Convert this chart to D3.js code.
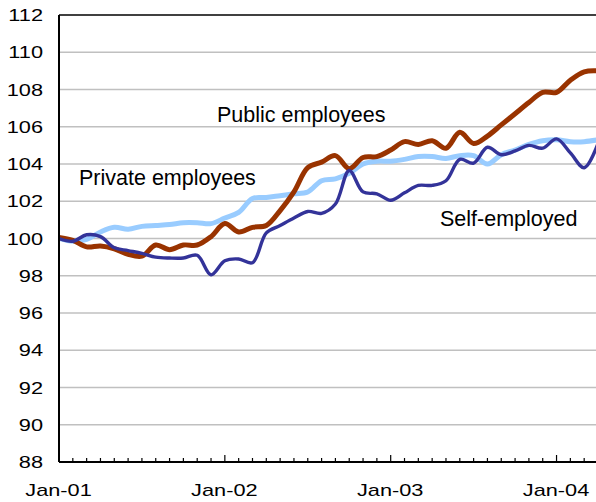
<!DOCTYPE html>
<html lang="en">

<head>
    <meta charset="UTF-8">
    <title>Employment index</title>
    <style>
        body {
            margin: 0;
            background: #fff;
        }

        svg {
            display: block;
            font-family: "Liberation Sans", Arial, sans-serif;
        }
    </style>
</head>

<body>
    <svg width="596" height="502"></svg>
    <script src="https://cdn.jsdelivr.net/npm/d3@7.8.5/dist/d3.min.js"></script>
    <script>
        // index values, monthly from Jan-01
        const yTicks = [88, 90, 92, 94, 96, 98, 100, 102, 104, 106, 108, 110, 112]
        const gridValues = [90, 92, 94, 96, 98, 100, 102, 104, 106, 108, 110]
        const xTickLabels = ['Jan-01', 'Jan-02', 'Jan-03', 'Jan-04']

        const publicEmp = [
            100.05, 99.9, 99.55, 99.6, 99.45, 99.15, 99.05, 99.65, 99.4, 99.65,
            99.65, 100.1, 100.8, 100.35, 100.6, 100.7, 101.5, 102.5, 103.8, 104.1,
            104.45, 103.75, 104.35, 104.4, 104.75, 105.2, 105.05, 105.25, 104.85, 105.7,
            105.1, 105.5, 106.1, 106.7, 107.3, 107.85, 107.85, 108.5, 108.95, 109.0
        ]
        const privateEmp = [
            100.0, 99.85, 99.95, 100.35, 100.6, 100.5, 100.65, 100.7, 100.75, 100.85,
            100.85, 100.8, 101.1, 101.4, 102.15, 102.2, 102.3, 102.4, 102.5, 103.1,
            103.2, 103.5, 104.0, 104.15, 104.15, 104.25, 104.4, 104.4, 104.3, 104.45,
            104.45, 104.0, 104.5, 104.75, 105.05, 105.25, 105.3, 105.2, 105.2, 105.3
        ]
        const selfEmp = [
            100.0, 99.85, 100.2, 100.1, 99.5, 99.35, 99.2, 99.0, 98.95, 98.95,
            99.1, 98.05, 98.8, 98.9, 98.7, 100.3, 100.7, 101.1, 101.45, 101.35,
            101.85, 103.65, 102.5, 102.4, 102.05, 102.45, 102.85, 102.85, 103.1, 104.25,
            104.05, 104.9, 104.5, 104.7, 105.0, 104.85, 105.35, 104.6, 103.8, 105.1
        ]

        const svg = d3.select('svg')
        const plotLeft = 59, plotTop = 15, plotBottom = 462
        const months = d3.range(publicEmp.length)

        const x = d3.scaleLinear().domain([0, 39]).range([plotLeft, 598])
        const y = d3.scaleLinear().domain([88, 112]).range([plotBottom, plotTop])

        svg.append('defs').append('clipPath').attr('id', 'plot')
            .append('rect')
            .attr('x', plotLeft).attr('y', plotTop - 5)
            .attr('width', 600).attr('height', plotBottom - plotTop + 5)

        // gridlines
        svg.append('g').selectAll('line')
            .data(gridValues)
            .join('line')
            .attr('x1', plotLeft).attr('x2', 596)
            .attr('y1', d => y(d)).attr('y2', d => y(d))
            .attr('stroke', '#c0c0c0')
            .attr('stroke-width', 1.5)

        // series
        const line = d3.line()
            .x((d, i) => x(i))
            .y(d => y(d))
            .curve(d3.curveCatmullRom.alpha(0.5))

        const series = [
            { values: privateEmp, color: '#99ccff', width: 5 },
            { values: publicEmp, color: '#993300', width: 5 },
            { values: selfEmp, color: '#333399', width: 3.4 }
        ]

        svg.append('g').attr('clip-path', 'url(#plot)')
            .selectAll('path')
            .data(series)
            .join('path')
            .attr('d', d => line(d.values))
            .attr('fill', 'none')
            .attr('stroke', d => d.color)
            .attr('stroke-width', d => d.width)
            .attr('stroke-linejoin', 'round')
            .attr('stroke-linecap', 'round')

        // frame
        svg.append('line').attr('x1', plotLeft).attr('x2', plotLeft).attr('y1', plotTop).attr('y2', plotBottom)
            .attr('stroke', 'black').attr('stroke-width', 2)
        svg.append('line').attr('x1', plotLeft).attr('x2', 596).attr('y1', plotTop).attr('y2', plotTop)
            .attr('stroke', 'black').attr('stroke-width', 1.7)
        svg.append('line').attr('x1', plotLeft).attr('x2', 596).attr('y1', plotBottom).attr('y2', plotBottom)
            .attr('stroke', 'black').attr('stroke-width', 2)

        // month ticks, pointing inward
        svg.append('g').selectAll('line')
            .data(months)
            .join('line')
            .attr('x1', d => x(d)).attr('x2', d => x(d))
            .attr('y1', plotBottom).attr('y2', d => d % 12 === 0 ? plotBottom - 7 : plotBottom - 4)
            .attr('stroke', 'black')
            .attr('stroke-width', 1.2)

        // y labels
        svg.append('g').selectAll('text')
            .data(yTicks)
            .join('text')
            .attr('transform', d => `translate(43, ${y(d)}) scale(1.28, 1)`)
            .attr('dy', '0.36em')
            .attr('text-anchor', 'end')
            .attr('font-size', 17)
            .text(d => d)

        // x labels
        svg.append('g').selectAll('text')
            .data(xTickLabels)
            .join('text')
            .attr('transform', (d, i) => `translate(${x(i * 12) - 0.5}, 496) scale(1.28, 1)`)
            .attr('text-anchor', 'middle')
            .attr('font-size', 17)
            .text(d => d)

        // series labels
        const labels = [
            { text: 'Public employees', x: 217, y: 122 },
            { text: 'Private employees', x: 79, y: 185 },
            { text: 'Self-employed', x: 440, y: 226 }
        ]
        svg.append('g').selectAll('text')
            .data(labels)
            .join('text')
            .attr('x', d => d.x)
            .attr('y', d => d.y)
            .attr('font-size', 21.5)
            .text(d => d.text)
    </script>
</body>

</html>
